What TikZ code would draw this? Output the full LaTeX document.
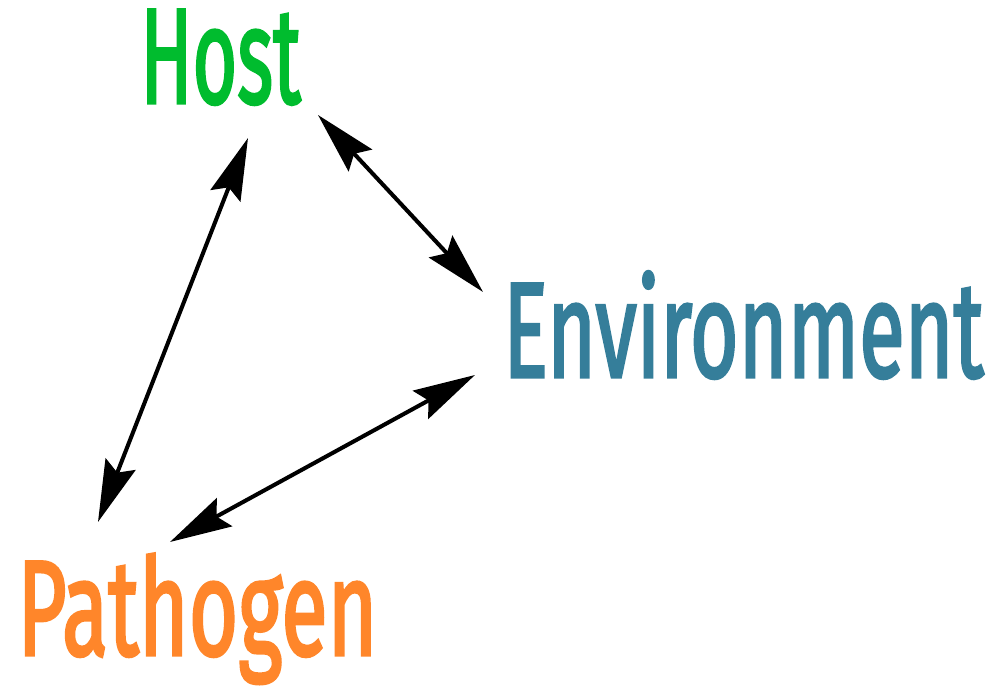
\documentclass[tikz,border=0pt]{standalone}
\usepackage{fontspec}
\setmainfont{Fira Sans}
\newfontfamily\wordfam{Fira Sans}[FakeBold=2.5]
\usepackage{tikz}
\usetikzlibrary{arrows.meta, positioning}
\definecolor{hostgreen}{RGB}{0,188,46}
\definecolor{envteal}{RGB}{53,126,154}
\definecolor{pathorange}{RGB}{255,134,42}
\newcommand{\wordfont}{\fontsize{77}{80}\wordfam}
\tikzstyle{word} = [inner sep=0pt, anchor=base west, font=\wordfont]
\tikzstyle{arrow} = [line width=2.3pt, {Stealth[length=1.24cm, width=0.64cm, inset=0.18cm]}-{Stealth[length=1.24cm, width=0.64cm, inset=0.18cm]}]

\begin{document}
\begin{tikzpicture}
\useasboundingbox (0,0) rectangle (19.9,13.8);

% The three words
\node (host) [word, text=hostgreen] at (2.80,11.74) {\scalebox{0.567}[1]{Host}};
\node (env) [word, text=envteal] at (10.06,6.26) {\scalebox{0.617}[1]{Environment}};
\node (path) [word, text=pathorange] at (0.34,0.70) {\scalebox{0.628}[1]{Pathogen}};

% Arrow ends
\coordinate (hostL) at (4.96,11.04);
\coordinate (pathT) at (1.96,3.36);
\coordinate (hostR) at (6.36,11.50);
\coordinate (envT) at (9.66,7.96);
\coordinate (envL) at (9.50,6.30);
\coordinate (pathR) at (3.40,2.96);

% Arrows
\draw [arrow] (hostL) -- (pathT);
\draw [arrow] (hostR) -- (envT);
\draw [arrow] (envL) -- (pathR);

\end{tikzpicture}
\end{document}
